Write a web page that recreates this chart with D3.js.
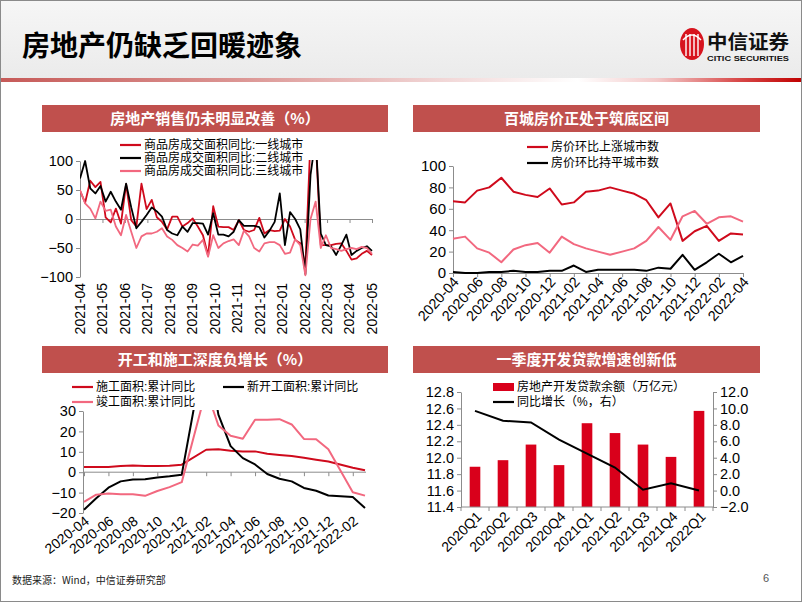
<!DOCTYPE html>
<html><head><meta charset="utf-8">
<script src="https://cdn.jsdelivr.net/npm/d3@7"></script>
<style>body{margin:0;background:#fff}svg{display:block}</style>
</head><body><svg id="c" width="802" height="602"></svg>
<script>
// ---------------- DATA ----------------
const c1Months = ["2021-04","2021-05","2021-06","2021-07","2021-08","2021-09","2021-10","2021-11","2021-12","2022-01","2022-02","2022-03","2022-04","2022-05"];
const c1YTicks = [-100,-50,0,50,100];
const c1Tier1 = [49,28,66,55,64,3,-6,18,-8,60,-2,-13,61,17,33,3,-5,-18,4,4,-13,-7,1,-13,-28,-63,22,-13,-14,-14,-19,-2,-19,-22,-19,2,-25,-19,-21,-20,0,-13,-36,-42,-80,140,140,-45,-45,-45,-43,-42,-55,-70,-68,-60,-55,-62];
const c1Tier2 = [70,100,53,44,57,30,47,30,16,61,20,-16,-5,7,20,13,4,-19,-25,-28,-13,-22,-7,-7,-8,-27,10,-27,-27,-30,-22,-2,-12,-12,-12,-14,-32,-20,-5,44,-45,12,0,-18,-95,76,140,-25,-45,-47,-62,-45,-27,-62,-55,-50,-47,-55];
const c1Tier3 = [50,27,18,1,30,14,16,-13,-28,7,-22,-50,-30,-25,-25,-22,-16,-30,-36,-45,-50,-56,-44,-46,-36,-65,-28,-50,-42,-38,-35,-45,-20,-30,-50,-56,-42,-40,-40,-45,-60,-58,-35,-45,-97,0,30,-50,-28,-50,-52,-55,-52,-50,-52,-48,-50,-60];

const c2Months = ["2020-04","2020-05","2020-06","2020-07","2020-08","2020-09","2020-10","2020-11","2020-12","2021-01","2021-02","2021-03","2021-04","2021-05","2021-06","2021-07","2021-08","2021-09","2021-10","2021-11","2021-12","2022-01","2022-02","2022-03","2022-04"];
const c2YTicks = [0,20,40,60,80,100];
const c2Up   = [67,66,77,80,89,76,73,71,79,64,66,76,77,80,77,74,68,52,65,30,39,44,30,37,36];
const c2Flat = [1,0,0,1,1,2,1,1,2,2,7,1,3,3,3,3,2,5,4,17,3,10,18,10,16];
const c2Down = [32,34,23,19,10,22,26,28,19,34,27,23,20,17,20,23,30,43,31,53,58,46,52,53,48];

const c3Months = ["2020-04","2020-05","2020-06","2020-07","2020-08","2020-09","2020-10","2020-11","2020-12","2021-01","2021-02","2021-03","2021-04","2021-05","2021-06","2021-07","2021-08","2021-09","2021-10","2021-11","2021-12","2022-01","2022-02","2022-03"];
const c3YTicks = [-20,-10,0,10,20,30];
const c3Construction = [2.5,2.6,2.6,3.0,3.3,3.1,3.1,3.2,3.7,null,11.0,11.2,10.5,10.1,10.2,9.0,8.4,7.9,7.1,6.1,5.2,null,2.2,1.0];
const c3NewStarts    = [-18.4,-12.8,-7.6,-4.5,-3.6,-3.4,-2.6,-2.0,-1.2,null,64.3,28.2,12.8,6.9,3.8,-0.9,-3.2,-4.5,-7.7,-9.1,-11.4,null,-12.2,-17.5];
const c3Completed    = [-14.5,-11.0,-10.5,-10.8,-10.8,-11.6,-9.2,-7.3,-4.9,null,40.4,22.9,17.9,16.4,25.7,25.7,26.0,23.4,16.3,16.2,11.2,null,-9.8,-11.5];

const c4Quarters = ["2020Q1","2020Q2","2020Q3","2020Q4","2021Q1","2021Q2","2021Q3","2021Q4","2022Q1"];
const c4LeftTicks = [11.4,11.6,11.8,12.0,12.2,12.4,12.6,12.8];
const c4RightTicks = [-2,0,2,4,6,8,10,12];
const c4Balance = [11.89,11.97,12.16,11.91,12.42,12.30,12.16,12.01,12.57];
const c4Growth  = [9.7,8.5,8.3,6.2,4.5,2.8,0.1,0.9,0.0];

// ---------------- STYLE ----------------
const SANS = "'Liberation Sans', Arial, 'Noto Sans CJK SC', sans-serif";
const CJK = "'Noto Sans CJK SC', 'Noto Sans', sans-serif";
const RED = "#cf0a1c", PINK = "#f2687f", BLACK = "#000000", AXIS = "#8c8c8c", BAR = "#d9001b", PANEL = "#c0504d";
const TICKFS = 14.5;

const svg = d3.select("#c");
const defs = svg.append("defs");

const hg = defs.append("linearGradient").attr("id","hdr").attr("x1",0).attr("y1",0).attr("x2",0).attr("y2",1);
hg.append("stop").attr("offset",0).attr("stop-color","#f6f6f6");
hg.append("stop").attr("offset",1).attr("stop-color","#ebebeb");
const rg = defs.append("linearGradient").attr("id","rline");
[[0,"#c65a58"],[0.3,"#dc9694"],[0.55,"#f1d6d6"],[0.72,"#ffffff"],[0.82,"#f3c9c9"],[0.92,"#d84a4a"],[1,"#c00000"]]
  .forEach(([o,c]) => rg.append("stop").attr("offset",o).attr("stop-color",c));

svg.append("rect").attr("width",802).attr("height",602).attr("fill","#fff");
svg.append("rect").attr("width",802).attr("height",78).attr("fill","url(#hdr)");
svg.append("rect").attr("y",78).attr("width",802).attr("height",4).attr("fill","url(#rline)");

svg.append("text").attr("x",22).attr("y",56)
  .style("font",`bold 28px ${CJK}`).attr("fill","#000").text("房地产仍缺乏回暖迹象");

// logo
const logo = svg.append("g");
logo.append("ellipse").attr("cx",692).attr("cy",44).attr("rx",12).attr("ry",16).attr("fill","#d7141e");
[-6,-2,2,6].forEach(d => logo.append("line").attr("x1",692+d).attr("x2",692+d).attr("y1",34).attr("y2",56)
  .attr("stroke","#fff").attr("stroke-width",1.4));
logo.append("path").attr("d","M683,40 Q692,30 701,40").attr("fill","none").attr("stroke","#fff").attr("stroke-width",1.4);
logo.append("text").attr("x",707).attr("y",49).style("font",`bold 19px ${CJK}`).attr("fill","#111")
  .attr("textLength",82).attr("lengthAdjust","spacingAndGlyphs").text("中信证券");
logo.append("text").attr("x",707).attr("y",61).style("font",`bold 7.5px ${SANS}`).attr("fill","#111")
  .attr("textLength",82).attr("lengthAdjust","spacingAndGlyphs").text("CITIC SECURITIES");

// footer
svg.append("text").attr("x",12).attr("y",584).style("font",`10px ${CJK}`).attr("fill","#222").text("数据来源：Wind，中信证券研究部");
svg.append("text").attr("x",763).attr("y",582).style("font",`11px ${SANS}`).attr("fill","#555").text("6");
svg.append("rect").attr("x",0.5).attr("y",0.5).attr("width",801).attr("height",601).attr("fill","none").attr("stroke","#8a8a8a");

function panel(x, y, w, h, label) {
  svg.append("rect").attr("x",x).attr("y",y).attr("width",w).attr("height",h).attr("fill",PANEL);
  svg.append("text").attr("x",x+w/2).attr("y",y+h/2).attr("dy","0.36em").attr("text-anchor","middle")
    .attr("fill","#fff").style("font",`bold 15px ${CJK}`).text(label);
}
panel(42,105,346,27,"房地产销售仍未明显改善（%）");
panel(413,105,347,27,"百城房价正处于筑底区间");
panel(42,346,346,27,"开工和施工深度负增长（%）");
panel(413,346,347,27,"一季度开发贷款增速创新低");

function styleAxis(g, fs) {
  g.select(".domain").attr("stroke",AXIS);
  g.selectAll(".tick line").attr("stroke",AXIS);
  g.selectAll(".tick text").attr("fill","#000").style("font-family",SANS).style("font-size",(fs||TICKFS)+"px");
}
function legendLine(x, y, color, label) {
  svg.append("line").attr("x1",x).attr("x2",x+21).attr("y1",y).attr("y2",y).attr("stroke",color).attr("stroke-width",2.2);
  svg.append("text").attr("x",x+24).attr("y",y).attr("dy","0.36em").style("font",`12px ${SANS}`).attr("fill","#000").text(label);
}
function clip(id, x, y, w, h) {
  defs.append("clipPath").attr("id",id).append("rect").attr("x",x).attr("y",y).attr("width",w).attr("height",h);
}

// ---------------- CHART 1 ----------------
{
  const x = d3.scaleLinear().domain([0, c1Tier1.length-1]).range([80,372]);
  const xm = d3.scalePoint().domain(c1Months).range([80,372]);
  const y = d3.scaleLinear().domain([-100,100]).range([277,161]);
  const ax = svg.append("g").attr("transform","translate(80,0)")
    .call(d3.axisLeft(y).tickValues(c1YTicks).tickSize(4).tickSizeOuter(0).tickPadding(3));
  styleAxis(ax);
  const bx = svg.append("g").attr("transform",`translate(0,${y(0)})`)
    .call(d3.axisBottom(xm).tickSize(4).tickSizeOuter(0).tickFormat(""));
  styleAxis(bx);
  svg.append("g").selectAll("text").data(c1Months).join("text")
    .attr("transform", d => `translate(${xm(d)},283) rotate(-90)`)
    .attr("dy","0.35em").attr("text-anchor","end")
    .style("font",`14px ${SANS}`).attr("fill","#000").text(d => d);
  clip("cp1", 80, 160, 293, 118);
  const line = d3.line().x((d,i) => x(i)).y(d => y(d));
  const lg = svg.append("g").attr("clip-path","url(#cp1)");
  [[c1Tier1,RED],[c1Tier2,BLACK],[c1Tier3,PINK]].forEach(([s,c]) =>
    lg.append("path").datum(s).attr("d",line).attr("fill","none").attr("stroke",c).attr("stroke-width",1.8).attr("stroke-linejoin","round"));
  legendLine(120,145,RED,"商品房成交面积同比:一线城市");
  legendLine(120,158,BLACK,"商品房成交面积同比:二线城市");
  legendLine(120,171,PINK,"商品房成交面积同比:三线城市");
}

// ---------------- CHART 2 ----------------
{
  const x = d3.scalePoint().domain(c2Months).range([453,743]);
  const y = d3.scaleLinear().domain([0,100]).range([273,166]);
  const ax = svg.append("g").attr("transform","translate(453,0)")
    .call(d3.axisLeft(y).tickValues(c2YTicks).tickSize(4).tickSizeOuter(0).tickPadding(3));
  styleAxis(ax, 15);
  const shown = c2Months.filter((d,i) => i % 2 === 0);
  const bx = svg.append("g").attr("transform","translate(0,273)")
    .call(d3.axisBottom(x).tickValues(shown).tickSize(4).tickSizeOuter(0).tickFormat(""));
  styleAxis(bx);
  svg.append("g").selectAll("text").data(shown).join("text")
    .attr("transform", d => `translate(${x(d)+3},279) rotate(-48)`)
    .attr("dy","0.35em").attr("text-anchor","end")
    .style("font",`14.5px ${SANS}`).attr("fill","#000").text(d => d);
  const line = d3.line().x((d,i) => x(c2Months[i])).y(d => y(d));
  [[c2Up,RED],[c2Down,PINK],[c2Flat,BLACK]].forEach(([s,c]) =>
    svg.append("path").datum(s).attr("d",line).attr("fill","none").attr("stroke",c).attr("stroke-width",2).attr("stroke-linejoin","round"));
  legendLine(527,147,RED,"房价环比上涨城市数");
  legendLine(527,163,BLACK,"房价环比持平城市数");
}

// ---------------- CHART 3 ----------------
{
  const x = d3.scalePoint().domain(c3Months).range([84,365]);
  const y = d3.scaleLinear().domain([-20,30]).range([513,411]);
  const ax = svg.append("g").attr("transform","translate(83,0)")
    .call(d3.axisLeft(y).tickValues(c3YTicks).tickSize(4).tickSizeOuter(0).tickPadding(3));
  styleAxis(ax, 14.5);
  const shown = c3Months.filter((d,i) => i % 2 === 0);
  const bx = svg.append("g").attr("transform",`translate(0,${y(0)})`)
    .call(d3.axisBottom(x).tickValues(shown).tickSize(4).tickSizeOuter(0).tickFormat(""));
  styleAxis(bx);
  bx.select(".domain").attr("d",`M83,0H366`);
  svg.append("g").selectAll("text").data(shown).join("text")
    .attr("transform", d => `translate(${x(d)+3},519) rotate(-38)`)
    .attr("dy","0.35em").attr("text-anchor","end")
    .style("font",`14px ${SANS}`).attr("fill","#000").text(d => d);
  clip("cp3", 83, 410, 284, 104);
  const lg = svg.append("g").attr("clip-path","url(#cp3)");
  const line = d3.line().x(d => x(d.m)).y(d => y(d.v));
  const pts = s => s.map((v,i) => ({m:c3Months[i], v})).filter(d => d.v !== null);
  [[c3Construction,RED],[c3NewStarts,BLACK],[c3Completed,PINK]].forEach(([s,c]) =>
    lg.append("path").datum(pts(s)).attr("d",line).attr("fill","none").attr("stroke",c).attr("stroke-width",2).attr("stroke-linejoin","round"));
  legendLine(72,387,RED,"施工面积:累计同比");
  legendLine(223,387,BLACK,"新开工面积:累计同比");
  legendLine(72,402,PINK,"竣工面积:累计同比");
}

// ---------------- CHART 4 ----------------
{
  const xb = d3.scaleBand().domain(c4Quarters).range([461,713]).paddingInner(0.62).paddingOuter(0.31);
  const yl = d3.scaleLinear().domain([11.4,12.8]).range([507,392]);
  const yr = d3.scaleLinear().domain([-2,12]).range([507,392]);
  const f = d3.format(".1f");
  const al = svg.append("g").attr("transform","translate(461,0)")
    .call(d3.axisLeft(yl).tickValues(c4LeftTicks).tickFormat(f).tickSize(4).tickSizeOuter(0).tickPadding(3));
  styleAxis(al, 14.5);
  const ar = svg.append("g").attr("transform","translate(713,0)")
    .call(d3.axisRight(yr).tickValues(c4RightTicks).tickFormat(f).tickSize(4).tickSizeOuter(0).tickPadding(3));
  styleAxis(ar, 14.5);
  svg.append("g").selectAll("rect").data(c4Balance).join("rect")
    .attr("x",(d,i) => xb(c4Quarters[i])).attr("width",xb.bandwidth())
    .attr("y",d => yl(d)).attr("height",d => 507 - yl(d)).attr("fill",BAR);
  const half = (xb.step() - xb.bandwidth())/2;
  const bounds = c4Quarters.map(q => xb(q) - half).concat([713]);
  const bg = svg.append("g");
  bg.append("line").attr("x1",461).attr("x2",713).attr("y1",507).attr("y2",507).attr("stroke",AXIS);
  bg.selectAll(".t").data(bounds).join("line").attr("x1",d=>d).attr("x2",d=>d).attr("y1",507).attr("y2",511).attr("stroke",AXIS);
  svg.append("g").selectAll("text").data(c4Quarters).join("text")
    .attr("transform", d => `translate(${xb(d)+xb.bandwidth()/2+4},514) rotate(-45)`)
    .attr("dy","0.35em").attr("text-anchor","end")
    .style("font",`14px ${SANS}`).attr("fill","#000").text(d => d);
  const line = d3.line().x((d,i) => xb(c4Quarters[i]) + xb.bandwidth()/2).y(d => yr(d));
  svg.append("path").datum(c4Growth).attr("d",line).attr("fill","none").attr("stroke",BLACK).attr("stroke-width",2);
  svg.append("rect").attr("x",493).attr("y",383).attr("width",21).attr("height",8).attr("fill",BAR);
  svg.append("text").attr("x",517).attr("y",387).attr("dy","0.36em").style("font",`12px ${SANS}`).text("房地产开发贷款余额（万亿元）");
  legendLine(493,402,BLACK,"同比增长（%，右）");
}
</script></body></html>
